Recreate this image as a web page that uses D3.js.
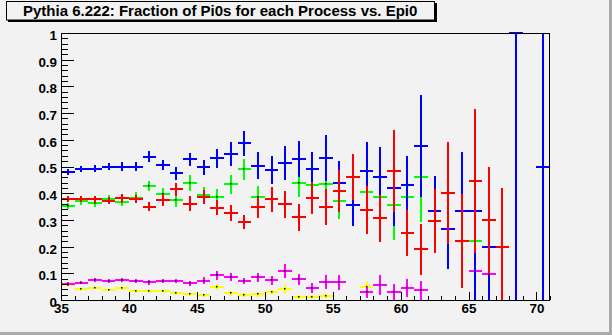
<!DOCTYPE html>
<html><head><meta charset="utf-8">
<script src="https://cdn.jsdelivr.net/npm/d3@7/dist/d3.min.js"></script>
<style>
html,body{margin:0;padding:0;background:#f2f2f2;}
svg{display:block;font-family:"Liberation Sans",Arial,Helvetica,sans-serif;}
</style></head>
<body><svg id="c" width="612" height="335"></svg>
<script>
// ---- data ----
const binCenters = d3.range(35.5, 71, 1); // 35.5 ... 70.5
const xTicks = [35, 40, 45, 50, 55, 60, 65, 70];
const xTickLabels = ["35", "40", "45", "50", "55", "60", "65", "70"];
const yTicks = [0, 0.1, 0.2, 0.3, 0.4, 0.5, 0.6, 0.7, 0.8, 0.9, 1];
const yTickLabels = ["0", "0.1", "0.2", "0.3", "0.4", "0.5", "0.6", "0.7", "0.8", "0.9", "1"];
const title = "Pythia 6.222: Fraction of Pi0s for each Process vs. Epi0";

const yellowVals = [0.056,0.040,0.045,0.037,0.045,0.032,0.032,0.032,0.025,0.022,0.018,0.049,0.025,0.019,0.021,0.029,0.040,0.010,0.010,0.014,null,null,0.050,null,null,null,null,null,null,null,null,null,null,null,null,null];
const yellowErrs = [0.005,0.005,0.005,0.005,0.006,0.006,0.006,0.006,0.006,0.006,0.006,0.012,0.008,0.007,0.008,0.010,0.017,0.008,0.008,0.010,null,null,0.020,null,null,null,null,null,null,null,null,null,null,null,null,null];

const magentaVals = [0.060,0.065,0.075,0.071,0.075,0.071,0.066,0.071,0.071,0.062,0.073,0.092,0.085,0.071,0.085,0.074,0.109,0.077,0.044,0.067,0.067,null,0.029,0.056,0.029,0.044,0.036,null,null,null,0.107,0.096,null,null,null,null];
const magentaErrs = [0.006,0.006,0.007,0.007,0.007,0.008,0.008,0.008,0.009,0.010,0.012,0.017,0.015,0.012,0.016,0.016,0.026,0.022,0.019,0.025,0.028,null,0.020,0.036,0.030,0.034,0.035,null,null,null,0.107,0.100,null,null,null,null];

const greenVals = [0.351,0.370,0.363,0.378,0.368,0.383,0.427,0.397,0.374,0.438,0.394,0.385,0.433,0.489,0.385,null,null,0.438,0.431,0.433,0.371,null,0.403,0.385,0.356,0.385,0.459,null,null,null,0.220,null,null,null,null,null];
const greenErrs = [0.012,0.013,0.014,0.015,0.017,0.020,0.020,0.022,0.024,0.030,0.030,0.031,0.036,0.040,0.042,null,null,0.053,0.055,0.060,0.067,null,0.070,0.075,0.130,0.100,0.166,null,null,null,0.220,null,null,null,null,null];

const blueVals = [0.480,0.490,0.492,0.500,0.500,0.500,0.537,0.506,0.474,0.527,0.498,0.530,0.547,0.587,0.503,0.487,0.512,0.527,0.489,0.531,0.437,0.356,0.483,0.460,0.418,0.431,0.576,0.333,0.265,0.333,0.333,0.200,null,1.000,null,0.500];
const blueErrs = [0.012,0.012,0.012,0.014,0.015,0.015,0.020,0.020,0.024,0.025,0.028,0.034,0.044,0.046,0.051,0.054,0.064,0.068,0.066,0.086,0.084,0.080,0.108,0.112,0.141,0.107,0.190,0.130,0.150,0.220,0.350,0.200,null,1.000,null,0.500];

const redVals = [0.378,0.379,0.378,0.372,0.383,0.378,0.350,0.375,0.415,0.360,0.386,0.345,0.325,0.291,0.347,0.377,0.358,0.310,0.381,0.347,0.408,0.459,0.337,0.306,0.483,0.250,0.190,0.295,0.400,0.220,0.445,0.298,0.200,null,null,null];
const redErrs = [0.012,0.012,0.013,0.014,0.015,0.016,0.017,0.022,0.025,0.028,0.025,0.028,0.030,0.026,0.040,0.047,0.052,0.050,0.060,0.067,0.078,0.086,0.090,0.087,0.154,0.087,0.095,0.120,0.190,0.176,0.270,0.200,0.220,null,null,null];

const series = [
  {color:"#ffff00", vals:yellowVals, errs:yellowErrs, dot:true},
  {color:"#ff00ff", vals:magentaVals, errs:magentaErrs, dot:true},
  {color:"#00ff00", vals:greenVals, errs:greenErrs, dot:true},
  {color:"#0000ff", vals:blueVals, errs:blueErrs, dot:false},
  {color:"#ff0000", vals:redVals, errs:redErrs, dot:false}
];

// ---- layout ----
const W = 612, H = 335;
const svg = d3.select("#c");
const x = d3.scaleLinear().domain([35, 71]).range([61, 550]);
const y = d3.scaleLinear().domain([0, 1]).range([300, 33]);

// canvas border (bottom/right dark)
svg.append("rect").attr("x",0).attr("y",0).attr("width",W).attr("height",H).attr("fill","#f2f2f2");
svg.append("rect").attr("x",W-3).attr("y",0).attr("width",3).attr("height",H).attr("fill","#a9a9a9");
svg.append("rect").attr("x",0).attr("y",H-3).attr("width",W).attr("height",3).attr("fill","#a9a9a9");

// data clipping
svg.append("clipPath").attr("id","fr").append("rect")
  .attr("x",x(35)).attr("y",y(1)-1).attr("width",x(71)-x(35)).attr("height",y(0)-y(1)+1);

const binW = x(36) - x(35);
const plot = svg.append("g").attr("clip-path","url(#fr)");
series.forEach(s => {
  const pts = binCenters.map((c,i) => ({c, v:s.vals[i], e:s.errs[i]})).filter(d => d.v !== null);
  const g = plot.append("g").attr("stroke", s.color).attr("stroke-width", 2).attr("shape-rendering","crispEdges");
  g.selectAll("line.h").data(pts).join("line").attr("class","h")
    .attr("x1", d => x(d.c - 0.5)).attr("x2", d => x(d.c + 0.5))
    .attr("y1", d => y(d.v)).attr("y2", d => y(d.v));
  g.selectAll("line.v").data(pts).join("line").attr("class","v")
    .attr("x1", d => x(d.c)).attr("x2", d => x(d.c))
    .attr("y1", d => y(Math.min(d.v + d.e, 1.02))).attr("y2", d => y(Math.max(d.v - d.e, 0)));
  if (s.dot) {
    plot.append("g").selectAll("rect").data(pts).join("rect")
      .attr("x", d => Math.round(x(d.c)) - 1).attr("y", d => Math.round(y(d.v)) - 1)
      .attr("width", 1.5).attr("height", 1.5).attr("fill", "#000");
  }
});

// axes
const fontSz = 13.4;
const xMinor = d3.range(35, 72, 1);
const yMinor = d3.range(0, 1.0001, 0.02);
const axG = svg.append("g").attr("shape-rendering","crispEdges");

axG.append("g").attr("transform", `translate(0,${y(0)})`)
  .call(d3.axisBottom(x).tickValues(xMinor).tickSize(-4).tickFormat(""))
  .call(g => g.select(".domain").remove());
axG.append("g").attr("transform", `translate(0,${y(0)})`)
  .call(d3.axisBottom(x).tickValues(xTicks).tickSize(-8).tickPadding(3)
        .tickFormat((d,i) => xTickLabels[i]))
  .call(g => g.select(".domain").remove())
  .call(g => g.selectAll("text").attr("font-size", fontSz).attr("font-weight","bold")
        .attr("fill","#000").attr("font-family","Liberation Sans, Arial, sans-serif"));

axG.append("g").attr("transform", `translate(${x(35)},0)`)
  .call(d3.axisLeft(y).tickValues(yMinor).tickSize(-7).tickFormat(""))
  .call(g => g.select(".domain").remove());
axG.append("g").attr("transform", `translate(${x(35)},0)`)
  .call(d3.axisLeft(y).tickValues(yTicks).tickSize(-13).tickPadding(4)
        .tickFormat((d,i) => yTickLabels[i]))
  .call(g => g.select(".domain").remove())
  .call(g => g.selectAll("text").attr("font-size", fontSz).attr("font-weight","bold")
        .attr("dy","0.48em").attr("fill","#000").attr("font-family","Liberation Sans, Arial, sans-serif"));
axG.selectAll(".tick line").attr("stroke","#000");

// frame
svg.append("rect").attr("x", x(35)+0.5).attr("y", y(1)+0.5)
  .attr("width", x(71)-x(35)-1).attr("height", y(0)-y(1))
  .attr("fill","none").attr("stroke","#000").attr("stroke-width",1);

// title box
svg.append("rect").attr("x",8).attr("y",3).attr("width",429).attr("height",19).attr("fill","#000");
svg.append("rect").attr("x",6.5).attr("y",1.5).attr("width",428).attr("height",18.5)
  .attr("fill","#f2f2f2").attr("stroke","#000").attr("stroke-width",1);
svg.append("text").attr("x",23).attr("y",16.3).attr("font-size",15).attr("font-weight","bold")
  .attr("fill","#000").text(title);
</script></body></html>
